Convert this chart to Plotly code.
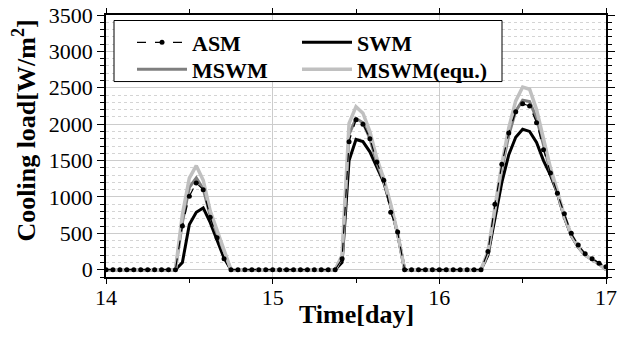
import plotly.graph_objects as go

# hourly time axis, day 14 .. 17
hours = list(range(0, 73))
time_day = [14 + h / 24 for h in hours]


def day_profile(nonzero, n=24):
    out = [0.0] * n
    for h, v in nonzero.items():
        out[h] = v
    return out


# Day 14 values (hour -> W/m2)
asm_d1 = {11: 600, 12: 1010, 13: 1190, 14: 1100, 15: 720, 16: 440, 17: 150}
swm_d1 = {11: 100, 12: 620, 13: 790, 14: 850, 15: 650, 16: 400, 17: 160}
mswm_d1 = {11: 650, 12: 1130, 13: 1260, 14: 1110, 15: 740, 16: 490, 17: 230}
equ_d1 = {11: 760, 12: 1260, 13: 1430, 14: 1230, 15: 810, 16: 530, 17: 250}

# Day 15
asm_d2 = {10: 150, 11: 1760, 12: 2060, 13: 2000, 14: 1800, 15: 1480, 16: 1230, 17: 790, 18: 520}
swm_d2 = {10: 100, 11: 1500, 12: 1790, 13: 1760, 14: 1620, 15: 1400, 16: 1200, 17: 870, 18: 490}
mswm_d2 = {10: 180, 11: 1860, 12: 2080, 13: 2020, 14: 1800, 15: 1470, 16: 1220, 17: 880, 18: 490}
equ_d2 = {10: 200, 11: 2010, 12: 2240, 13: 2150, 14: 1900, 15: 1530, 16: 1250, 17: 900, 18: 500}

# Day 16
asm_d3 = {7: 250, 8: 900, 9: 1450, 10: 1880, 11: 2170, 12: 2280, 13: 2250, 14: 2020, 15: 1650,
          16: 1330, 17: 1050, 18: 770, 19: 500, 20: 340, 21: 220, 22: 150, 23: 90}
swm_d3 = {7: 200, 8: 700, 9: 1200, 10: 1580, 11: 1820, 12: 1930, 13: 1900, 14: 1750, 15: 1500,
          16: 1300, 17: 1050, 18: 720, 19: 470, 20: 310, 21: 200, 22: 140, 23: 80}
mswm_d3 = {7: 230, 8: 800, 9: 1380, 10: 1850, 11: 2180, 12: 2330, 13: 2310, 14: 2080, 15: 1720,
           16: 1350, 17: 1050, 18: 720, 19: 470, 20: 310, 21: 200, 22: 140, 23: 80}
equ_d3 = {7: 250, 8: 850, 9: 1450, 10: 1950, 11: 2320, 12: 2510, 13: 2480, 14: 2200, 15: 1800,
          16: 1400, 17: 1080, 18: 740, 19: 480, 20: 320, 21: 200, 22: 140, 23: 80}

asm_end, swm_end, mswm_end, equ_end = 40, 0, 0, 0

asm = day_profile(asm_d1) + day_profile(asm_d2) + day_profile(asm_d3) + [asm_end]
swm = day_profile(swm_d1) + day_profile(swm_d2) + day_profile(swm_d3) + [swm_end]
mswm = day_profile(mswm_d1) + day_profile(mswm_d2) + day_profile(mswm_d3) + [mswm_end]
equ = day_profile(equ_d1) + day_profile(equ_d2) + day_profile(equ_d3) + [equ_end]

x_title = "Time[day]"
y_title = "Cooling load[W/m<sup>2</sup>]"

FONT = "Liberation Serif"

fig = go.Figure()
fig.add_trace(go.Scatter(x=time_day, y=swm, name="SWM", mode="lines", legend="legend2",
                         line=dict(color="black", width=3)))
fig.add_trace(go.Scatter(x=time_day, y=mswm, name="MSWM", mode="lines", legend="legend3",
                         line=dict(color="#7f7f7f", width=3)))
fig.add_trace(go.Scatter(x=time_day, y=equ, name="MSWM(equ.)", mode="lines", legend="legend4",
                         line=dict(color="#c0c0c0", width=3.5)))
fig.add_trace(go.Scatter(x=time_day, y=asm, name="ASM", mode="lines+markers", legend="legend",
                         line=dict(color="black", width=1.2, dash="dash"),
                         marker=dict(color="black", size=5)))

legend_common = dict(
    yanchor="top", xanchor="left", orientation="v",
    bgcolor="rgba(0,0,0,0)", borderwidth=0,
    font=dict(family=FONT, size=22, color="black", weight="bold"),
    tracegroupgap=0, itemwidth=50,
)
col1_x, col2_x = 0.052, 0.382
row1_y, row2_y = 0.975, 0.872

fig.update_layout(
    width=618, height=340,
    margin=dict(l=106, r=12, t=15, b=63, autoexpand=False),
    paper_bgcolor="white", plot_bgcolor="white",
    font=dict(family=FONT, color="black", size=22),
    showlegend=True,
    legend=dict(x=col1_x, y=row1_y, **legend_common),
    legend2=dict(x=col2_x, y=row1_y, **legend_common),
    legend3=dict(x=col1_x, y=row2_y, **legend_common),
    legend4=dict(x=col2_x, y=row2_y, **legend_common),
    shapes=[dict(type="rect", xref="paper", yref="paper",
                 x0=0.016, x1=0.792, y0=0.746, y1=0.979,
                 line=dict(color="black", width=1), fillcolor="white", layer="above")],
    annotations=[
        dict(text="<b>" + x_title + "</b>", xref="paper", yref="paper",
             x=0.5, y=-0.143, xanchor="center", yanchor="middle", showarrow=False,
             font=dict(family=FONT, size=26, color="black")),
        dict(text="<b>" + y_title + "</b>", xref="paper", yref="paper",
             x=-0.162, y=0.559, xanchor="center", yanchor="middle", showarrow=False,
             textangle=-90, font=dict(family=FONT, size=26, color="black")),
    ],
    xaxis=dict(
        range=[14, 17], dtick=1, tick0=14, automargin=False,
        showline=True, linecolor="black", linewidth=1.5, mirror="ticks",
        ticks="outside", ticklen=5, tickwidth=1.2, tickcolor="black",
        ticklabelstandoff=-5,
        showgrid=True, gridcolor="#cccccc", gridwidth=1,
        tickfont=dict(family=FONT, size=22, color="black"),
        minor=dict(dtick=0.5, ticks="outside", ticklen=4, tickcolor="black", showgrid=False),
        zeroline=False,
    ),
    yaxis=dict(
        range=[-100, 3500], dtick=500, tick0=0, automargin=False,
        showline=True, linecolor="black", linewidth=1.5, mirror="ticks",
        ticks="outside", ticklen=7, tickwidth=1.2, tickcolor="black",
        showgrid=True, gridcolor="#cccccc", gridwidth=1,
        tickfont=dict(family=FONT, size=22, color="black"),
        minor=dict(dtick=100, tick0=0, ticks="outside", ticklen=4, tickcolor="black",
                   showgrid=True, gridcolor="#d4d4d4", griddash="dot", gridwidth=1),
        zeroline=False,
    ),
)

fig.write_html("out.html")
